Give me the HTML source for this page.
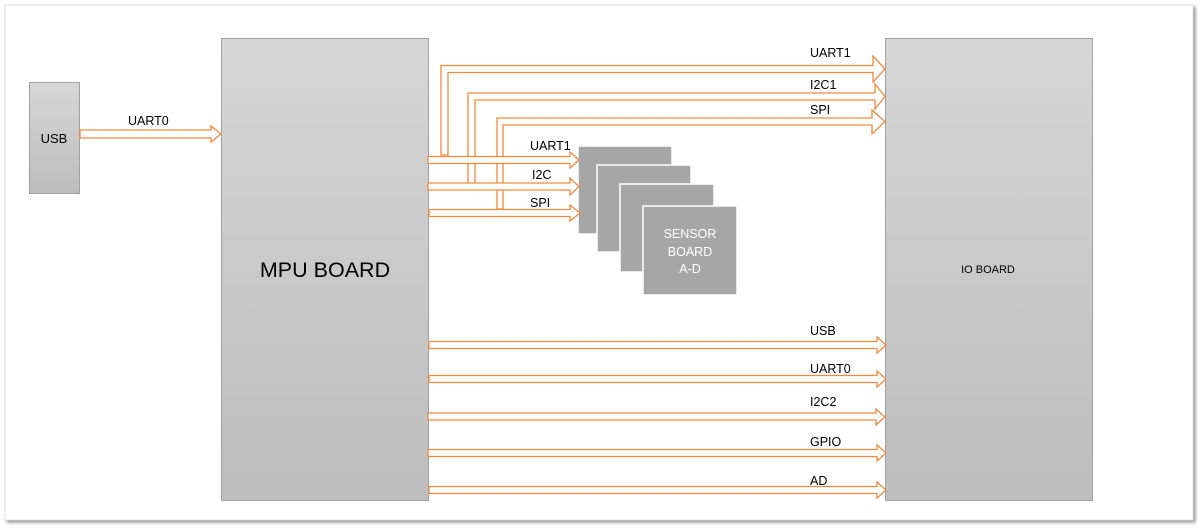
<!DOCTYPE html>
<html><head><meta charset="utf-8"><style>
body{margin:0;background:#fff;width:1202px;height:529px;overflow:hidden}
svg{display:block}
text{font-family:"Liberation Sans",sans-serif}
</style></head><body>
<svg width="1202" height="529" viewBox="0 0 1202 529">
<defs>
<linearGradient id="g" x1="0" y1="0" x2="0" y2="1"><stop offset="0" stop-color="#d6d6d6"/><stop offset="1" stop-color="#bdbdbd"/></linearGradient>
<filter id="sh" x="-5%" y="-5%" width="110%" height="110%"><feDropShadow dx="2" dy="2" stdDeviation="1.5" flood-color="#000" flood-opacity="0.45"/></filter>
</defs>
<rect x="5" y="5" width="1188" height="515" fill="#fff" stroke="#e2e2e2" filter="url(#sh)"/>
<g stroke="#a0a0a0" fill="url(#g)">
<rect x="29.5" y="82.5" width="50" height="111"/>
<rect x="221.5" y="38.5" width="207" height="462"/>
<rect x="885.5" y="38.5" width="207" height="462"/>
</g>
<text x="54" y="143" font-size="13" text-anchor="middle" fill="#000">USB</text>
<text x="325" y="277" font-size="21.5" text-anchor="middle" fill="#000">MPU BOARD</text>
<text x="988" y="273" font-size="11" text-anchor="middle" fill="#000">IO BOARD</text>
<g fill="#a6a6a6" stroke="#fff" stroke-width="1.5">
<rect x="578" y="146" width="94" height="88"/>
<rect x="597" y="165" width="94" height="87"/>
<rect x="620" y="184" width="94" height="88"/>
<rect x="643" y="206" width="94" height="89"/>
</g>
<text font-size="12.5" fill="#fff" text-anchor="middle"><tspan x="690" y="238">SENSOR</tspan><tspan x="690" y="256">BOARD</tspan><tspan x="690" y="273">A-D</tspan></text>
<g fill="#fff" stroke="#f08a3e" stroke-width="1.3" stroke-linejoin="miter">
<polygon points="80,130 211,130 211,126 221,134 211,142 211,138 80,138"/>
<polygon points="441,155 441,65.5 873,65.5 873,56 885,69 873,82 873,72.5 448,72.5 448,155"/>
<polygon points="468,184 468,93 875,93 875,84 885,96.5 875,109 875,100 475,100 475,184"/>
<polygon points="497,209 497,118 872,118 872,110 885,121.5 872,134 872,125 503,125 503,209"/>
<polygon points="428,156.5 570,156.5 570,152 579,160 570,168 570,163.5 428,163.5"/>
<polygon points="428,183 570,183 570,178 579,186.5 570,195 570,190 428,190"/>
<polygon points="429,209.5 570,209.5 570,205 580,213 570,221 570,216.5 429,216.5"/>
<polygon points="429,341.5 877,341.5 877,337 886,345 877,353 877,348.5 429,348.5"/>
<polygon points="429,375.5 877,375.5 877,371 886,379 877,387 877,382.5 429,382.5"/>
<polygon points="428,413 876,413 876,409 885,417 876,425 876,420 428,420"/>
<polygon points="428,449.5 877,449.5 877,445 886,453 877,461 877,456.5 428,456.5"/>
<polygon points="429,486.5 877,486.5 877,482 886,490 877,498 877,493.5 429,493.5"/>
</g>
<g font-size="12.5" fill="#000">
<text x="128" y="125">UART0</text>
<text x="810" y="57">UART1</text>
<text x="810" y="89">I2C1</text>
<text x="810" y="114">SPI</text>
<text x="530" y="150">UART1</text>
<text x="532" y="179">I2C</text>
<text x="530" y="207">SPI</text>
<text x="810" y="335">USB</text>
<text x="810" y="373">UART0</text>
<text x="810" y="406">I2C2</text>
<text x="810" y="446">GPIO</text>
<text x="810" y="485">AD</text>
</g>
</svg>
</body></html>
